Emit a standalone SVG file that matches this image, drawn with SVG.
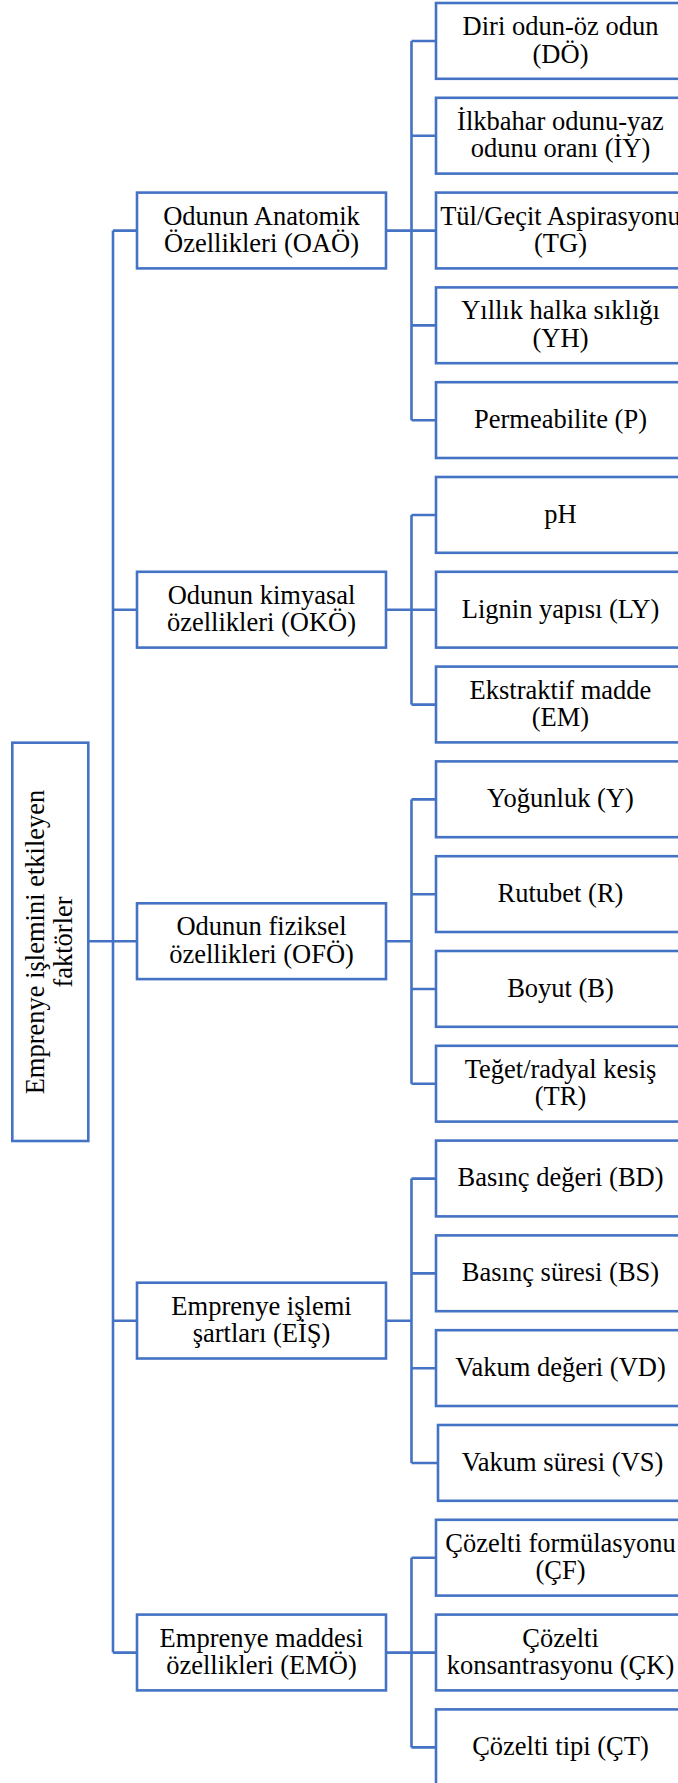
<svg xmlns="http://www.w3.org/2000/svg" width="678" height="1783" viewBox="0 0 678 1783">
<style>
.box{fill:#fff;stroke:#4472C4;stroke-width:2.6}
.ln{fill:none;stroke:#4472C4;stroke-width:2.6}
text{font-family:"Liberation Serif","Times New Roman",serif;font-size:26.5px;fill:#000;text-anchor:middle}
</style>
<rect width="678" height="1783" fill="#fff"/>
<g id="connectors" class="ln">
<path d="M88 941.3H113M113 230.6V1652.6"/>
<path d="M113 230.6H137M113 609.8H137M113 941.3H137M113 1320.7H137M113 1652.6H137"/>
<path d="M386 230.6H411.5M386 609.8H411.5M386 941.3H411.5M386 1320.7H411.5M386 1652.6H411.5"/>
<path d="M411.5 41V420.2M411.5 515V704.6M411.5 799.4V1083.8M411.5 1178.6V1463M411.5 1557.8V1747.4"/>
<path d="M411.5 41H436M411.5 135.8H436M411.5 230.6H436M411.5 325.4H436M411.5 420.2H436M411.5 515H436M411.5 609.8H436M411.5 704.6H436M411.5 799.4H436M411.5 894.2H436M411.5 989H436M411.5 1083.8H436M411.5 1178.6H436M411.5 1273.4H436M411.5 1368.2H436M411.5 1463H438M411.5 1557.8H436M411.5 1652.6H436M411.5 1747.4H436"/>
</g>
<g id="root">
<rect class="box" x="12.3" y="742.7" width="76" height="398.3"/>
<g transform="translate(50,942) rotate(-90)"><text x="0" y="-6">Emprenye işlemini etkileyen</text><text x="0" y="21.5">faktörler</text></g>
</g>
<g id="OAO"><rect class="box" x="137" y="192.6" width="249" height="75.8"/><text x="261.5" y="224.6">Odunun Anatomik</text><text x="261.5" y="252.1">Özellikleri (OAÖ)</text></g>
<g id="OKO"><rect class="box" x="137" y="571.8" width="249" height="75.8"/><text x="261.5" y="603.8">Odunun kimyasal</text><text x="261.5" y="631.3">özellikleri (OKÖ)</text></g>
<g id="OFO"><rect class="box" x="137" y="903.3" width="249" height="75.8"/><text x="261.5" y="935.3">Odunun fiziksel</text><text x="261.5" y="962.8">özellikleri (OFÖ)</text></g>
<g id="EIS"><rect class="box" x="137" y="1282.7" width="249" height="75.8"/><text x="261.5" y="1314.7">Emprenye işlemi</text><text x="261.5" y="1342.2">şartları (EİŞ)</text></g>
<g id="EMO"><rect class="box" x="137" y="1614.6" width="249" height="75.8"/><text x="261.5" y="1646.6">Emprenye maddesi</text><text x="261.5" y="1674.1">özellikleri (EMÖ)</text></g>
<g id="DO"><rect class="box" x="436" y="3" width="249" height="75.8"/><text x="560.5" y="35">Diri odun-öz odun</text><text x="560.5" y="62.5">(DÖ)</text></g>
<g id="IY"><rect class="box" x="436" y="97.8" width="249" height="75.8"/><text x="560.5" y="129.8">İlkbahar odunu-yaz</text><text x="560.5" y="157.3">odunu oranı (İY)</text></g>
<g id="TG"><rect class="box" x="436" y="192.6" width="249" height="75.8"/><text x="560.5" y="224.6">Tül/Geçit Aspirasyonu</text><text x="560.5" y="252.1">(TG)</text></g>
<g id="YH"><rect class="box" x="436" y="287.4" width="249" height="75.8"/><text x="560.5" y="319.4">Yıllık halka sıklığı</text><text x="560.5" y="346.9">(YH)</text></g>
<g id="P"><rect class="box" x="436" y="382.2" width="249" height="75.8"/><text x="560.5" y="428">Permeabilite (P)</text></g>
<g id="pH"><rect class="box" x="436" y="477" width="249" height="75.8"/><text x="560.5" y="522.8">pH</text></g>
<g id="LY"><rect class="box" x="436" y="571.8" width="249" height="75.8"/><text x="560.5" y="617.6">Lignin yapısı (LY)</text></g>
<g id="EM"><rect class="box" x="436" y="666.6" width="249" height="75.8"/><text x="560.5" y="698.6">Ekstraktif madde</text><text x="560.5" y="726.1">(EM)</text></g>
<g id="Y"><rect class="box" x="436" y="761.4" width="249" height="75.8"/><text x="560.5" y="807.2">Yoğunluk (Y)</text></g>
<g id="R"><rect class="box" x="436" y="856.2" width="249" height="75.8"/><text x="560.5" y="902">Rutubet (R)</text></g>
<g id="B"><rect class="box" x="436" y="951" width="249" height="75.8"/><text x="560.5" y="996.8">Boyut (B)</text></g>
<g id="TR"><rect class="box" x="436" y="1045.8" width="249" height="75.8"/><text x="560.5" y="1077.8">Teğet/radyal kesiş</text><text x="560.5" y="1105.3">(TR)</text></g>
<g id="BD"><rect class="box" x="436" y="1140.6" width="249" height="75.8"/><text x="560.5" y="1186.4">Basınç değeri (BD)</text></g>
<g id="BS"><rect class="box" x="436" y="1235.4" width="249" height="75.8"/><text x="560.5" y="1281.2">Basınç süresi (BS)</text></g>
<g id="VD"><rect class="box" x="436" y="1330.2" width="249" height="75.8"/><text x="560.5" y="1376">Vakum değeri (VD)</text></g>
<g id="VS"><rect class="box" x="438" y="1425" width="249" height="75.8"/><text x="562.5" y="1470.8">Vakum süresi (VS)</text></g>
<g id="CF"><rect class="box" x="436" y="1519.8" width="249" height="75.8"/><text x="560.5" y="1551.8">Çözelti formülasyonu</text><text x="560.5" y="1579.3">(ÇF)</text></g>
<g id="CK"><rect class="box" x="436" y="1614.6" width="249" height="75.8"/><text x="560.5" y="1646.6">Çözelti</text><text x="560.5" y="1674.1">konsantrasyonu (ÇK)</text></g>
<g id="CT"><rect class="box" x="436" y="1709.4" width="249" height="75.8"/><text x="560.5" y="1755.2">Çözelti tipi (ÇT)</text></g>
</svg>
